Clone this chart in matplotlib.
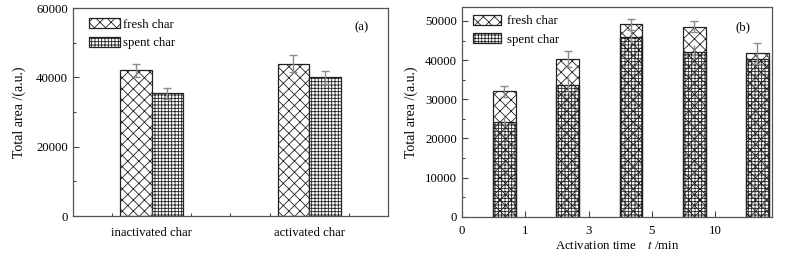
import numpy as np
import matplotlib
matplotlib.use('Agg')
import matplotlib.pyplot as plt
from matplotlib.ticker import MultipleLocator, FixedLocator

plt.rcParams['font.family'] = ['Liberation Serif', 'DejaVu Serif']
plt.rcParams['font.size'] = 9.2
plt.rcParams['hatch.linewidth'] = 0.6
plt.rcParams['mathtext.fontset'] = 'stix'

# (a) inactivated vs activated char
groups = ['inactivated char', 'activated char']
fresh_a = [42000, 44000]
fresh_a_err = [2000, 2400]
spent_a = [35400, 40000]
spent_a_err = [1500, 1800]

# (b) activation time
times = ['0', '1', '3', '5', '10']
fresh_b = [32000, 40300, 49200, 48500, 41700]
fresh_b_err = [1400, 2000, 1400, 1400, 2800]
spent_b = [24300, 33700, 46000, 42100, 40400]
spent_b_err = [1000, 1900, 1600, 1700, 1500]

edge = '#222222'
errc = '#8c8c8c'

fig = plt.figure(figsize=(8, 2.56), dpi=100)
ax1 = fig.add_axes([0.091, 0.156, 0.394, 0.8125])
ax2 = fig.add_axes([0.5775, 0.1535, 0.3875, 0.818])

# ---- panel (a)
pos = np.arange(1, len(groups) + 1)
w = 0.2
ax1.bar(pos - w / 2, fresh_a, w, facecolor='white', edgecolor=edge,
        hatch='xxx', linewidth=0.9, label='fresh char')
ax1.bar(pos + w / 2, spent_a, w, facecolor='white', edgecolor=edge,
        hatch='+++++', linewidth=0.9, label='spent char')
ax1.errorbar(pos - w / 2, fresh_a, yerr=fresh_a_err, fmt='none', ecolor=errc,
             elinewidth=1, capsize=3, capthick=1, zorder=5)
ax1.errorbar(pos + w / 2, spent_a, yerr=spent_a_err, fmt='none', ecolor=errc,
             elinewidth=1, capsize=3, capthick=1, zorder=5)
ax1.set_xlim(0.5, 2.5)
ax1.set_ylim(0, 60000)
ax1.xaxis.set_major_locator(FixedLocator(pos))
ax1.set_xticklabels(groups)
ax1.xaxis.set_minor_locator(FixedLocator([0.75, 1.25, 1.5, 1.75, 2.25]))
ax1.yaxis.set_major_locator(MultipleLocator(20000))
ax1.yaxis.set_minor_locator(MultipleLocator(10000))
ax1.set_ylabel('Total area /(a.u.)', fontsize=10, labelpad=7)
ax1.text(0.94, 0.91, '(a)', transform=ax1.transAxes, ha='right', va='center')
ax1.legend(loc='upper left', frameon=False, handlelength=2.4, handleheight=0.85,
           handletextpad=0.25, labelspacing=0.45, borderaxespad=0.4,
           bbox_to_anchor=(0.02, 1.0))
ax1.tick_params(axis='x', pad=8)

# ---- panel (b)
xb = np.arange(len(times)) + 0.67
wb = 0.36
ax2.bar(xb, fresh_b, wb, facecolor='white', edgecolor=edge, hatch='xxx',
        linewidth=0.9, label='fresh char')
ax2.bar(xb, spent_b, wb, facecolor='none', edgecolor=edge, hatch='+++++',
        linewidth=0.9, zorder=3)
ax2.bar([0], [0], 0, facecolor='white', edgecolor=edge, hatch='+++++',
        linewidth=0.9, label='spent char')
ax2.errorbar(xb, fresh_b, yerr=fresh_b_err, fmt='none', ecolor=errc,
             elinewidth=1, capsize=3, capthick=1, zorder=5)
ax2.errorbar(xb, spent_b, yerr=spent_b_err, fmt='none', ecolor=errc,
             elinewidth=1, capsize=0, zorder=5)
ax2.set_xlim(0, 4.9)
ax2.set_ylim(0, 53500)
ax2.set_xticks(np.arange(len(times)))
ax2.set_xticklabels(times)
ax2.yaxis.set_major_locator(MultipleLocator(10000))
ax2.yaxis.set_minor_locator(MultipleLocator(5000))
ax2.set_ylabel('Total area /(a.u.)', fontsize=10, labelpad=5)
ax2.set_xlabel('Activation time    $\\it{t}$ /min', fontsize=9.2, labelpad=2)
ax2.text(0.93, 0.905, '(b)', transform=ax2.transAxes, ha='right', va='center')
ax2.legend(loc='upper left', frameon=False, handlelength=2.2, handleheight=0.85,
           handletextpad=0.45, labelspacing=0.45, borderaxespad=0.2,
           bbox_to_anchor=(0.01, 1.0))
ax2.tick_params(axis='x', pad=6)

for ax in (ax1, ax2):
    for s in ax.spines.values():
        s.set_color('#555555')
        s.set_linewidth(0.9)
    ax.tick_params(which='both', direction='in', color='#444444', width=0.8)
    ax.tick_params(which='major', length=4)
    ax.tick_params(which='minor', length=2.5)

fig.savefig('out.png', dpi=100)
